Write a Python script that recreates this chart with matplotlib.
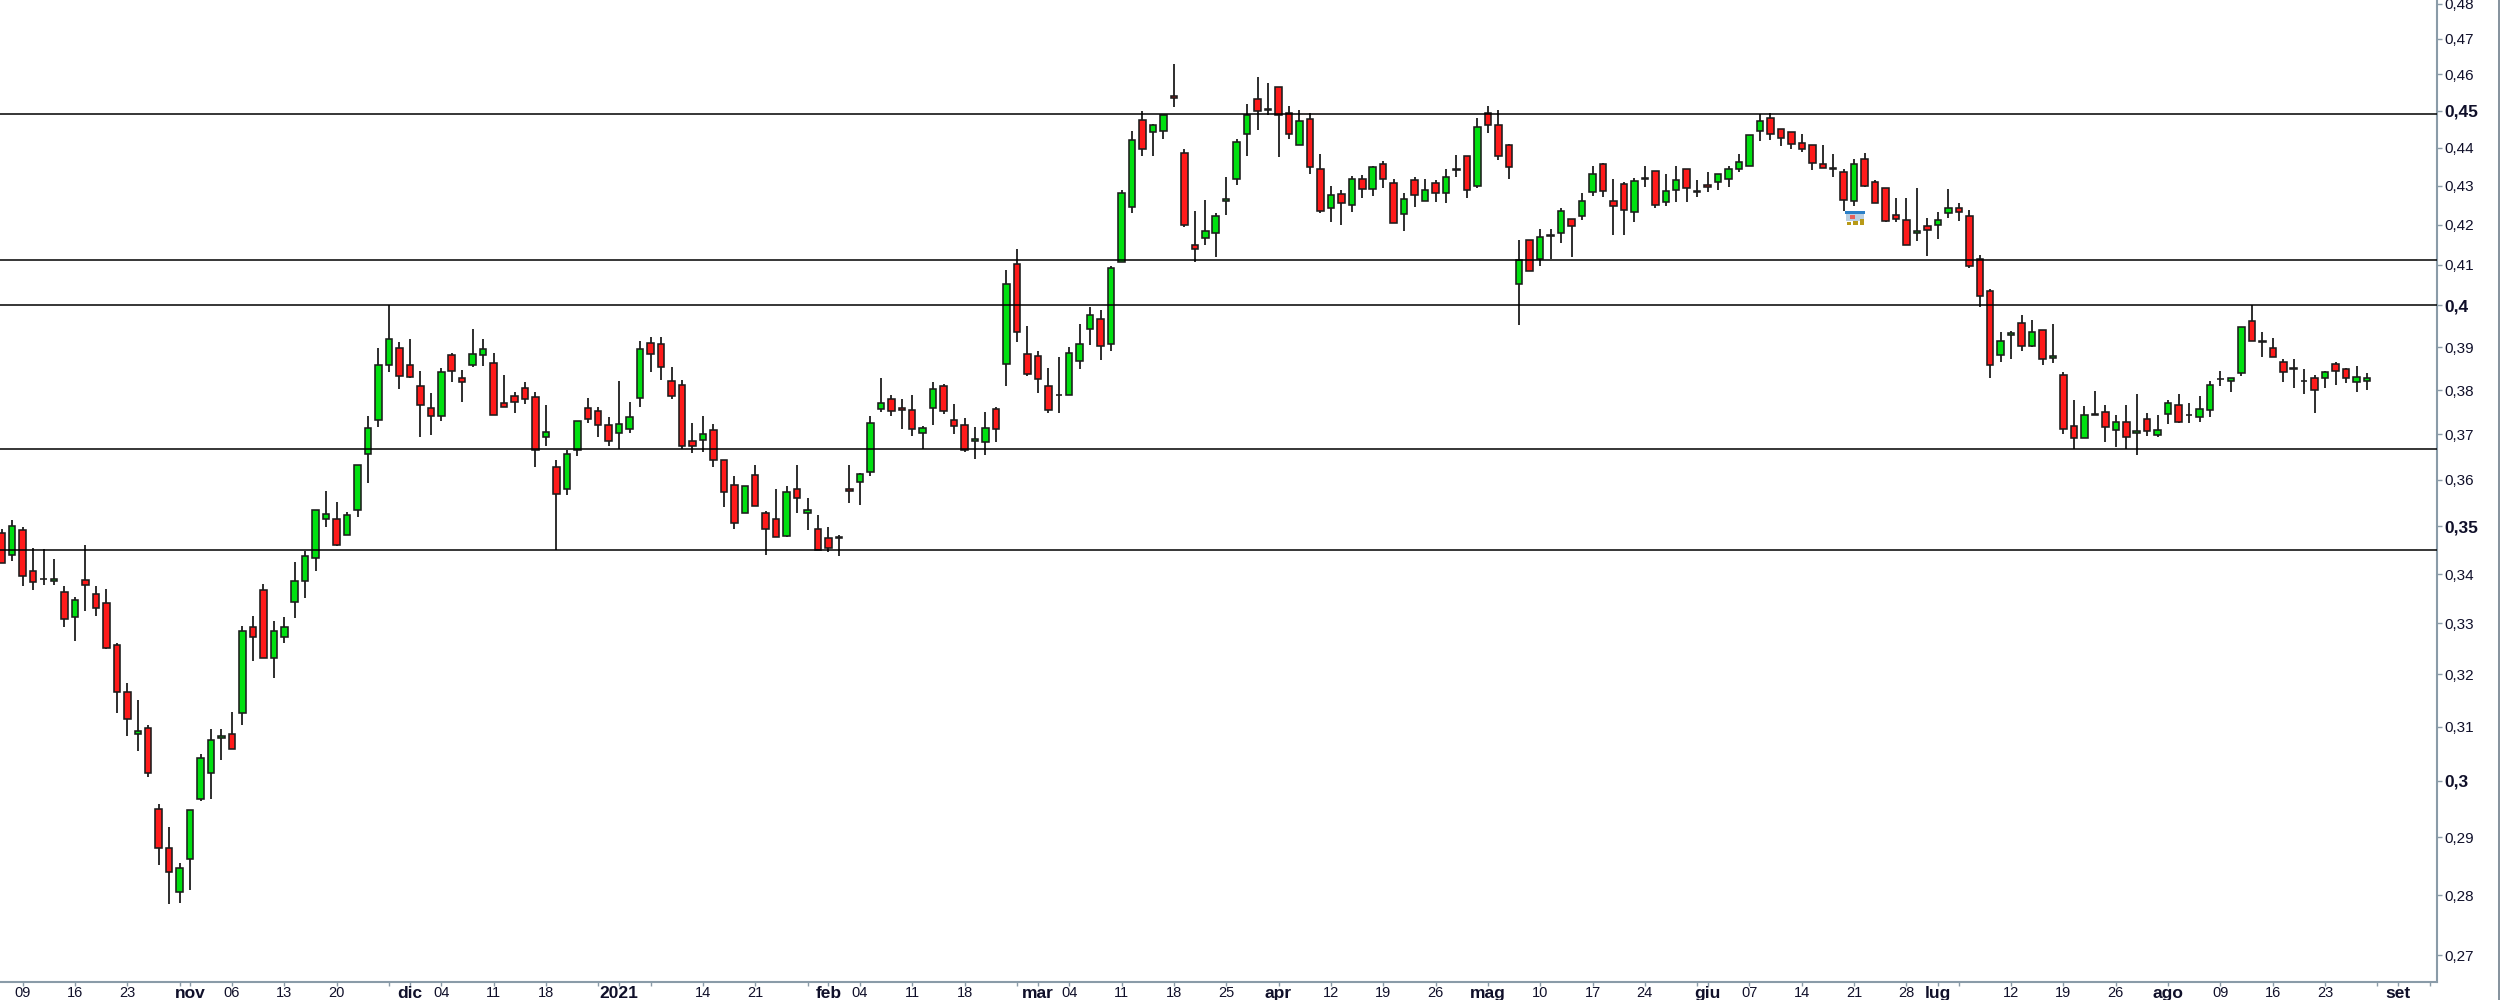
import matplotlib
matplotlib.use('Agg')
import matplotlib.pyplot as plt
import numpy as np
from matplotlib.lines import Line2D
from matplotlib.patches import Rectangle
from matplotlib.ticker import FixedLocator, NullLocator

plt.rcParams['font.family'] = ['Liberation Sans', 'DejaVu Sans']

highs = [
    .3493, .3512, .3498, .3453, .3451, .3431, .3375, .3353, .3461, .3375,
    .3370, .3262, .3183, .3150, .3103, .2959, .2918, .2854, .2947, .3049,
    .3095, .3095, .3127, .3295, .3315, .3379, .3304, .3313, .3424, .3448,
    .3534, .3575, .3552, .3531, .3632, .3742, .3898, .4000, .3913, .3919,
    .3844, .3793, .3851, .3886, .3846, .3944, .3919, .3886, .3834, .3796,
    .3818, .3796, .3765, .3642, .3666, .3730, .3781, .3761, .3738, .3821,
    .3773, .3915, .3925, .3925, .3854, .3823, .3726, .3741, .3723, .3642,
    .3607, .3585, .3631, .3533, .3580, .3585, .3631, .3561, .3524, .3498,
    .3482, .3632, .3614, .3740, .3829, .3788, .3780, .3788, .3718, .3818,
    .3815, .3768, .3736, .3716, .3750, .3761, .4086, .4139, .3950, .3891,
    .3851, .3877, .3900, .3955, .3995, .3989, .4096, .4290, .4445, .4499,
    .4463, .4489, .4628, .4396, .4234, .4263, .4231, .4322, .4424, .4517,
    .4592, .4577, .4564, .4514, .4502, .4493, .4383, .4299, .4288, .4325,
    .4328, .4353, .4365, .4319, .4281, .4322, .4319, .4316, .4345, .4380,
    .4379, .4479, .4514, .4502, .4409, .4161, .4161, .4190, .4190, .4242,
    .4214, .4281, .4352, .4361, .4318, .4309, .4320, .4351, .4340, .4332,
    .4352, .4345, .4315, .4336, .4331, .4351, .4384, .4433, .4490, .4493,
    .4451, .4442, .4437, .4407, .4408, .4384, .4344, .4370, .4387, .4315,
    .4294, .4269, .4269, .4295, .4217, .4232, .4293, .4255, .4238, .4124,
    .4040, .3936, .3939, .3977, .3964, .3940, .3956, .3842, .3777, .3764,
    .3799, .3766, .3743, .3766, .3791, .3749, .3743, .3778, .3791, .3771,
    .3786, .3821, .3845, .3828, .3948, .4001, .3936, .3923, .3873, .3873,
    .3849, .3836, .3844, .3865, .3851, .3855, .3840,
]

lows = [
    .3422, .3426, .3376, .3368, .3378, .3378, .3292, .3266, .3325, .3314,
    .3250, .3125, .3083, .3054, .3008, .2852, .2785, .2787, .2808, .2964,
    .2968, .3038, .3058, .3103, .3225, .3232, .3193, .3262, .3310, .3352,
    .3407, .3499, .3458, .3482, .3520, .3593, .3717, .3841, .3802, .3828,
    .3693, .3698, .3729, .3820, .3772, .3854, .3856, .3743, .3762, .3747,
    .3769, .3627, .3673, .3450, .3567, .3651, .3726, .3695, .3673, .3667,
    .3702, .3762, .3843, .3823, .3780, .3667, .3658, .3661, .3627, .3541,
    .3493, .3528, .3542, .3440, .3477, .3477, .3527, .3491, .3450, .3445,
    .3438, .3549, .3545, .3607, .3751, .3740, .3712, .3697, .3667, .3720,
    .3745, .3700, .3660, .3644, .3654, .3683, .3810, .3912, .3833, .3794,
    .3747, .3747, .3790, .3850, .3906, .3870, .3892, .4106, .4230, .4379,
    .4379, .4424, .4509, .4195, .4107, .4149, .4119, .4225, .4302, .4379,
    .4448, .4489, .4376, .4424, .4407, .4332, .4230, .4208, .4200, .4233,
    .4269, .4273, .4295, .4205, .4183, .4245, .4260, .4259, .4256, .4323,
    .4269, .4294, .4439, .4367, .4318, .3954, .4085, .4097, .4114, .4155,
    .4120, .4212, .4274, .4271, .4173, .4173, .4206, .4296, .4244, .4249,
    .4258, .4258, .4271, .4283, .4288, .4296, .4336, .4351, .4418, .4422,
    .4405, .4396, .4390, .4342, .4346, .4323, .4236, .4249, .4297, .4255,
    .4206, .4206, .4148, .4159, .4122, .4165, .4217, .4209, .4092, .3995,
    .3829, .3866, .3872, .3890, .3901, .3859, .3862, .3701, .3667, .3692,
    .3743, .3683, .3671, .3667, .3655, .3696, .3694, .3723, .3725, .3726,
    .3728, .3738, .3809, .3795, .3832, .3915, .3878, .3876, .3819, .3804,
    .3791, .3749, .3806, .3811, .3816, .3795, .3801,
]

opens = [
    .3485, .3440, .3491, .3406, .3390, .3385, .3363, .3313, .3388, .3359,
    .3341, .3258, .3166, .3087, .3097, .2949, .2881, .2805, .2862, .2968,
    .3014, .3079, .3087, .3126, .3293, .3368, .3232, .3273, .3343, .3385,
    .3433, .3516, .3516, .3482, .3535, .3657, .3733, .3859, .3899, .3859,
    .3810, .3760, .3740, .3882, .3828, .3859, .3881, .3864, .3770, .3787,
    .3805, .3785, .3693, .3627, .3580, .3665, .3760, .3752, .3720, .3703,
    .3711, .3783, .3909, .3907, .3821, .3811, .3686, .3688, .3710, .3642,
    .3589, .3528, .3611, .3528, .3516, .3479, .3580, .3527, .3494, .3475,
    .3477, .3579, .3594, .3616, .3757, .3780, .3760, .3755, .3703, .3760,
    .3810, .3732, .3720, .3684, .3682, .3757, .3860, .4101, .3884, .3879,
    .3810, .3790, .3790, .3868, .3944, .3968, .3907, .4106, .4246, .4474,
    .4442, .4445, .4541, .4386, .4148, .4167, .4178, .4260, .4319, .4436,
    .4531, .4504, .4564, .4495, .4407, .4478, .4345, .4242, .4279, .4251,
    .4319, .4293, .4356, .4308, .4227, .4316, .4260, .4308, .4281, .4345,
    .4377, .4299, .4493, .4460, .4407, .4053, .4161, .4115, .4171, .4179,
    .4214, .4221, .4283, .4358, .4261, .4304, .4232, .4320, .4340, .4258,
    .4289, .4345, .4286, .4303, .4310, .4318, .4345, .4351, .4446, .4480,
    .4451, .4442, .4413, .4407, .4358, .4346, .4337, .4261, .4371, .4309,
    .4294, .4224, .4212, .4178, .4196, .4199, .4230, .4243, .4221, .4113,
    .4035, .3881, .3930, .3958, .3903, .3940, .3875, .3835, .3719, .3692,
    .3745, .3751, .3709, .3728, .3702, .3734, .3699, .3746, .3765, .3744,
    .3739, .3754, .3826, .3822, .3839, .3963, .3914, .3899, .3865, .3852,
    .3822, .3828, .3829, .3861, .3849, .3819, .3822,
]

closes = [
    .3422, .3500, .3395, .3383, .3389, .3390, .3308, .3348, .3378, .3331,
    .3252, .3166, .3114, .3092, .3014, .2881, .2839, .2847, .2947, .3042,
    .3076, .3083, .3058, .3284, .3273, .3232, .3284, .3293, .3385, .3437,
    .3534, .3525, .3460, .3523, .3632, .3713, .3859, .3919, .3833, .3831,
    .3767, .3740, .3843, .3845, .3818, .3885, .3895, .3743, .3762, .3772,
    .3780, .3665, .3706, .3568, .3657, .3730, .3735, .3720, .3686, .3722,
    .3738, .3896, .3885, .3854, .3787, .3674, .3674, .3701, .3642, .3574,
    .3507, .3585, .3542, .3493, .3477, .3573, .3561, .3535, .3450, .3454,
    .3475, .3575, .3612, .3725, .3770, .3752, .3755, .3711, .3713, .3802,
    .3752, .3718, .3665, .3689, .3715, .3711, .4052, .3937, .3838, .3825,
    .3755, .3789, .3887, .3908, .3977, .3902, .4091, .4281, .4422, .4398,
    .4461, .4489, .4534, .4200, .4139, .4184, .4223, .4265, .4416, .4488,
    .4498, .4501, .4488, .4436, .4471, .4348, .4236, .4276, .4256, .4319,
    .4293, .4350, .4319, .4205, .4267, .4276, .4288, .4281, .4322, .4342,
    .4288, .4457, .4460, .4377, .4350, .4111, .4085, .4170, .4175, .4236,
    .4198, .4261, .4331, .4286, .4247, .4238, .4312, .4318, .4250, .4286,
    .4315, .4294, .4284, .4297, .4331, .4344, .4362, .4433, .4471, .4437,
    .4426, .4411, .4397, .4359, .4346, .4345, .4263, .4358, .4300, .4255,
    .4209, .4214, .4148, .4184, .4187, .4212, .4243, .4232, .4096, .4022,
    .3859, .3915, .3933, .3903, .3935, .3873, .3880, .3712, .3692, .3743,
    .3743, .3717, .3728, .3694, .3707, .3707, .3709, .3771, .3727, .3743,
    .3758, .3811, .3825, .3827, .3948, .3915, .3913, .3878, .3842, .3850,
    .3821, .3801, .3841, .3844, .3827, .3831, .3829,
]

# Support and resistance levels.
levels = [.4490, .4112, .4000, .3667, .3450]

price_ticks = [.27, .28, .29, .30, .31, .32, .33, .34, .35, .36, .37,
               .38, .39, .40, .41, .42, .43, .44, .45, .46, .47, .48]
price_labels = ['0,27', '0,28', '0,29', '0,3', '0,31', '0,32', '0,33', '0,34',
                '0,35', '0,36', '0,37', '0,38', '0,39', '0,4', '0,41', '0,42',
                '0,43', '0,44', '0,45', '0,46', '0,47', '0,48']
bold_prices = ['0,3', '0,35', '0,4', '0,45']

# Sessions that carry a date tick, and their labels ('' = tick only).
date_ticks = [2, 7, 12, 17, 18, 22, 27, 32, 37, 39, 42, 47, 52, 57, 59, 62,
              67, 72, 77, 79, 82, 87, 92, 97, 99, 102, 107, 112, 117, 122,
              127, 132, 137, 142, 147, 152, 157, 162, 163, 167, 172, 177,
              182, 185, 187, 192, 197, 202, 207, 212, 217, 222, 227, 229, 232]
date_labels = ['09', '16', '23', '', 'nov', '06', '13', '20', '', 'dic', '04',
               '11', '18', '', '2021', '', '14', '21', '', 'feb', '04', '11',
               '18', '', 'mar', '04', '11', '18', '25', 'apr', '12', '19',
               '26', 'mag', '10', '17', '24', '', 'giu', '07', '14', '21',
               '28', 'lug', '', '12', '19', '26', 'ago', '09', '16', '23',
               '', 'set', '']
bold_dates = ['nov', 'dic', '2021', 'feb', 'mar', 'apr', 'mag', 'giu', 'lug',
              'ago', 'set']

GREEN = '#00e010'
RED = '#ff1a1a'
EDGE = '#1c1c1c'
AXIS = '#8a9ba8'
TEXT = '#10102a'
W, H = 2500, 1000
AXIS_RIGHT = 2437
AXIS_BOTTOM = 982


def draw_candles(ax):
    x = np.arange(len(closes))
    o = np.array(opens)
    c = np.array(closes)
    up = c >= o
    ax.vlines(x, lows, highs, color=EDGE, linewidth=1.3, zorder=2)
    ax.bar(x, np.abs(c - o), bottom=np.minimum(o, c), width=0.62,
           color=[GREEN if u else RED for u in up],
           edgecolor=EDGE, linewidth=1.15, zorder=3)


def draw_calendar_icon(fig):
    # Small event marker that sits under the candles in June.
    parts = [(1845, 211, 20, 3, '#2b80c8'), (1846, 214, 18, 7, '#b9cfe2'),
             (1850, 215, 5, 4, '#e8605a'), (1847, 222, 4, 3, '#b89a18'),
             (1853, 221, 5, 4, '#b89a18'), (1860, 219, 4, 6, '#b89a18')]
    for left, top, width, height, colour in parts:
        fig.add_artist(Rectangle((left / W, 1 - (top + height) / H),
                                 width / W, height / H,
                                 transform=fig.transFigure,
                                 facecolor=colour, edgecolor='none'))


def main():
    fig = plt.figure(figsize=(W / 100, H / 100), dpi=100, facecolor='white')
    ax = fig.add_axes([0, 1 - AXIS_BOTTOM / H, AXIS_RIGHT / W,
                       AXIS_BOTTOM / H])

    draw_candles(ax)
    for level in levels:
        ax.axhline(level, color='black', linewidth=1.1, zorder=4)

    ax.set_yscale('log')
    ax.set_ylim(.26565, .48116)
    ax.set_xlim(-0.162, 232.69)

    ax.yaxis.tick_right()
    ax.yaxis.set_major_locator(FixedLocator(price_ticks))
    ax.yaxis.set_minor_locator(NullLocator())
    ax.set_yticklabels(price_labels, fontsize=11, color=TEXT)
    for label in ax.get_yticklabels():
        if label.get_text() in bold_prices:
            label.set_fontweight('bold')
            label.set_fontsize(12.5)
    ax.tick_params(axis='y', length=3.6, width=1, color=AXIS, pad=2)

    ax.set_xticks(date_ticks)
    ax.set_xticklabels(date_labels, fontsize=10.5, color=TEXT)
    for label in ax.get_xticklabels():
        if label.get_text() in bold_dates:
            label.set_fontweight('bold')
            label.set_fontsize(12.5)
    ax.tick_params(axis='x', length=2.6, width=1, color=AXIS, pad=0.5)

    for side in ['top', 'left']:
        ax.spines[side].set_visible(False)
    for side in ['right', 'bottom']:
        ax.spines[side].set_color(AXIS)
        ax.spines[side].set_linewidth(1.5)

    fig.add_artist(Line2D([0.9995, 0.9995], [0, 1], color='#6f7f8c',
                          linewidth=1.2))
    draw_calendar_icon(fig)

    fig.savefig('out.png', dpi=100)
    plt.close(fig)


if __name__ == '__main__':
    main()
